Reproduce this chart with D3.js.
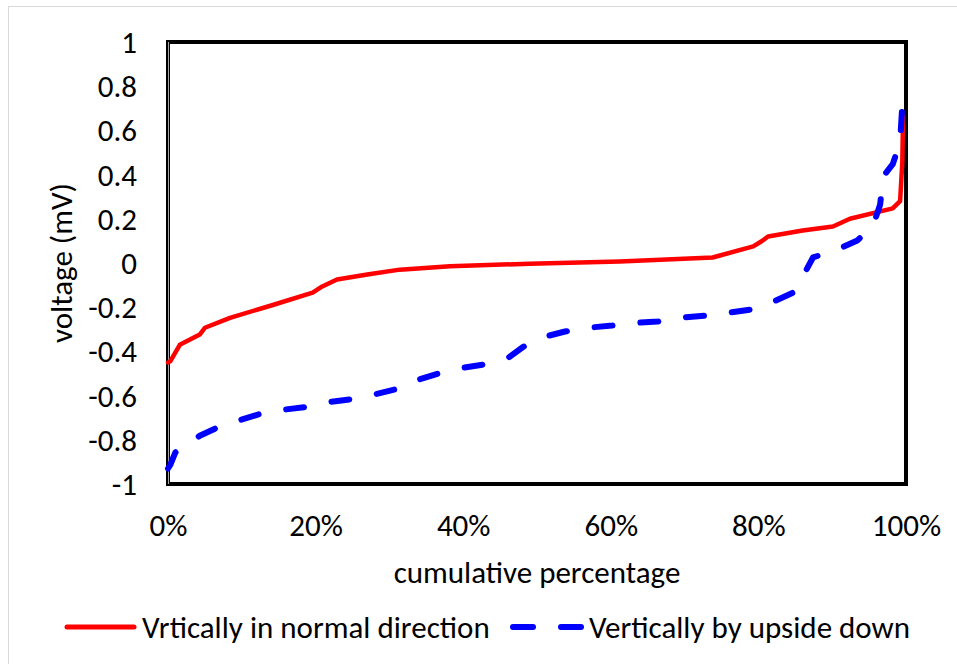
<!DOCTYPE html>
<html>
<head>
<meta charset="utf-8">
<script src="https://cdn.jsdelivr.net/npm/d3@7"></script>
<style>
  body { margin: 0; background: #fff; }
  svg text { font-family: "Carlito", "Liberation Sans Narrow", "Liberation Sans", sans-serif; fill: #000; }
</style>
</head>
<body>
<svg id="chart" width="957" height="664"></svg>
<script>
// Data (x = cumulative %, y = voltage in mV)
const normalPct = [0, 0.3, 1.6, 4.3, 5, 8.4, 14.2, 19.6, 20.9, 22.9, 27, 31.4, 38.2, 49, 61.2, 73.8, 79.3, 80.6, 81.3, 86, 90.1, 92.4, 98.2, 99.2, 99.5, 99.6];
const normalVolt = [-0.45, -0.445, -0.37, -0.324, -0.293, -0.248, -0.19, -0.134, -0.106, -0.075, -0.052, -0.03, -0.015, -0.003, 0.007, 0.025, 0.075, 0.102, 0.12, 0.147, 0.165, 0.2, 0.247, 0.28, 0.455, 0.665];

const upsidePct = [0, 0.3, 1, 1.6, 4.3, 6.6, 9.8, 12.5, 15.6, 18.8, 22, 25.1, 28.3, 31, 33.9, 36.9, 40, 42.7, 46.1, 48.1, 51.1, 53.8, 57.2, 60.2, 63.6, 66.4, 69.8, 72.8, 76.2, 78.9, 82, 84.7, 86.3, 87.4, 90.7, 93.4, 95.5, 96.5, 96.9, 98.2, 99.2, 99.6];
const upsideVolt = [-0.93, -0.914, -0.857, -0.844, -0.782, -0.746, -0.71, -0.683, -0.664, -0.651, -0.628, -0.615, -0.592, -0.57, -0.528, -0.497, -0.474, -0.46, -0.429, -0.38, -0.333, -0.31, -0.292, -0.283, -0.27, -0.265, -0.247, -0.238, -0.224, -0.211, -0.175, -0.134, -0.043, 0.025, 0.061, 0.102, 0.165, 0.265, 0.392, 0.447, 0.546, 0.773];

const yTicks = [-1, -0.8, -0.6, -0.4, -0.2, 0, 0.2, 0.4, 0.6, 0.8, 1];
const xTicks = [0, 20, 40, 60, 80, 100];
const seriesNames = ["Vrtically in normal direction", "Vertically by upside down"];

const translate = (x, y) => `translate(${x}, ${y})`;

const width = 957, height = 664;
const margins = { top: 42, right: 51, bottom: 180, left: 168 };
const plotW = width - margins.left - margins.right;
const plotH = height - margins.top - margins.bottom;
const fontSize = 31;

const svg = d3.select("#chart");

// outer chart border
svg.append("rect")
    .attr("x", 8.5).attr("y", 6.5)
    .attr("width", width).attr("height", height)
    .attr("fill", "#fff").attr("stroke", "#d9d9d9").attr("stroke-width", 1);

const x = d3.scaleLinear().domain([0, 100]).range([0, plotW]);
const y = d3.scaleLinear().domain([-1, 1]).range([plotH, 0]);

const g = svg.append("g").attr("transform", translate(margins.left, margins.top));

//Axes (labels only, the frame is drawn below)
const yAxis = d3.axisLeft(y).tickValues(yTicks).tickSize(0).tickPadding(31)
    .tickFormat(d => d3.format("")(+d.toFixed(1)).replace("−", "-"));
g.append("g").attr("class", "y-axis").call(yAxis)
    .call(s => s.select(".domain").remove())
    .selectAll("text").attr("font-size", fontSize).attr("dy", "0.34em");

const xAxis = d3.axisBottom(x).tickValues(xTicks).tickSize(0).tickPadding(30)
    .tickFormat(d => d + "%");
g.append("g").attr("class", "x-axis").attr("transform", translate(0, plotH)).call(xAxis)
    .call(s => s.select(".domain").remove())
    .selectAll("text").attr("font-size", fontSize).attr("dy", "0.71em");

// plot frame
g.append("rect")
    .attr("width", plotW).attr("height", plotH)
    .attr("fill", "none").attr("stroke", "#000").attr("stroke-width", 4);
g.append("line")
    .attr("x1", 0.5).attr("x2", 0.5).attr("y1", 0).attr("y2", plotH)
    .attr("stroke", "#a6a6a6").attr("stroke-width", 1);

// lines
const line = d3.line().x(d => x(d[0])).y(d => y(d[1]));
const normalData = normalPct.map((p, i) => [p, normalVolt[i]]);
const upsideData = upsidePct.map((p, i) => [p, upsideVolt[i]]);

g.append("path")
    .datum(normalData)
    .attr("d", line)
    .attr("fill", "none").attr("stroke", "#ff0000").attr("stroke-width", 4.5)
    .attr("stroke-linejoin", "round").attr("stroke-linecap", "round");

g.append("path")
    .datum(upsideData)
    .attr("d", line)
    .attr("fill", "none").attr("stroke", "#0000ff").attr("stroke-width", 6)
    .attr("stroke-dasharray", "18,28")
    .attr("stroke-linejoin", "round").attr("stroke-linecap", "round");

// axis titles
svg.append("text")
    .attr("x", margins.left + plotW / 2).attr("y", 583)
    .attr("text-anchor", "middle").attr("font-size", fontSize)
    .text("cumulative percentage");

svg.append("text")
    .attr("transform", translate(72, margins.top + plotH / 2) + " rotate(-90)")
    .attr("text-anchor", "middle").attr("font-size", fontSize)
    .text("voltage (mV)");

// legend
const legendY = 627;
svg.append("line")
    .attr("x1", 67).attr("x2", 134).attr("y1", legendY).attr("y2", legendY)
    .attr("stroke", "#ff0000").attr("stroke-width", 5).attr("stroke-linecap", "round");
svg.append("text")
    .attr("x", 142).attr("y", legendY).attr("dy", "0.35em").attr("font-size", fontSize)
    .text(seriesNames[0]);

svg.append("line")
    .attr("x1", 513).attr("x2", 584).attr("y1", legendY).attr("y2", legendY)
    .attr("stroke", "#0000ff").attr("stroke-width", 6).attr("stroke-linecap", "round")
    .attr("stroke-dasharray", "20,28");
svg.append("text")
    .attr("x", 589).attr("y", legendY).attr("dy", "0.35em").attr("font-size", fontSize)
    .text(seriesNames[1]);
</script>
</body>
</html>
